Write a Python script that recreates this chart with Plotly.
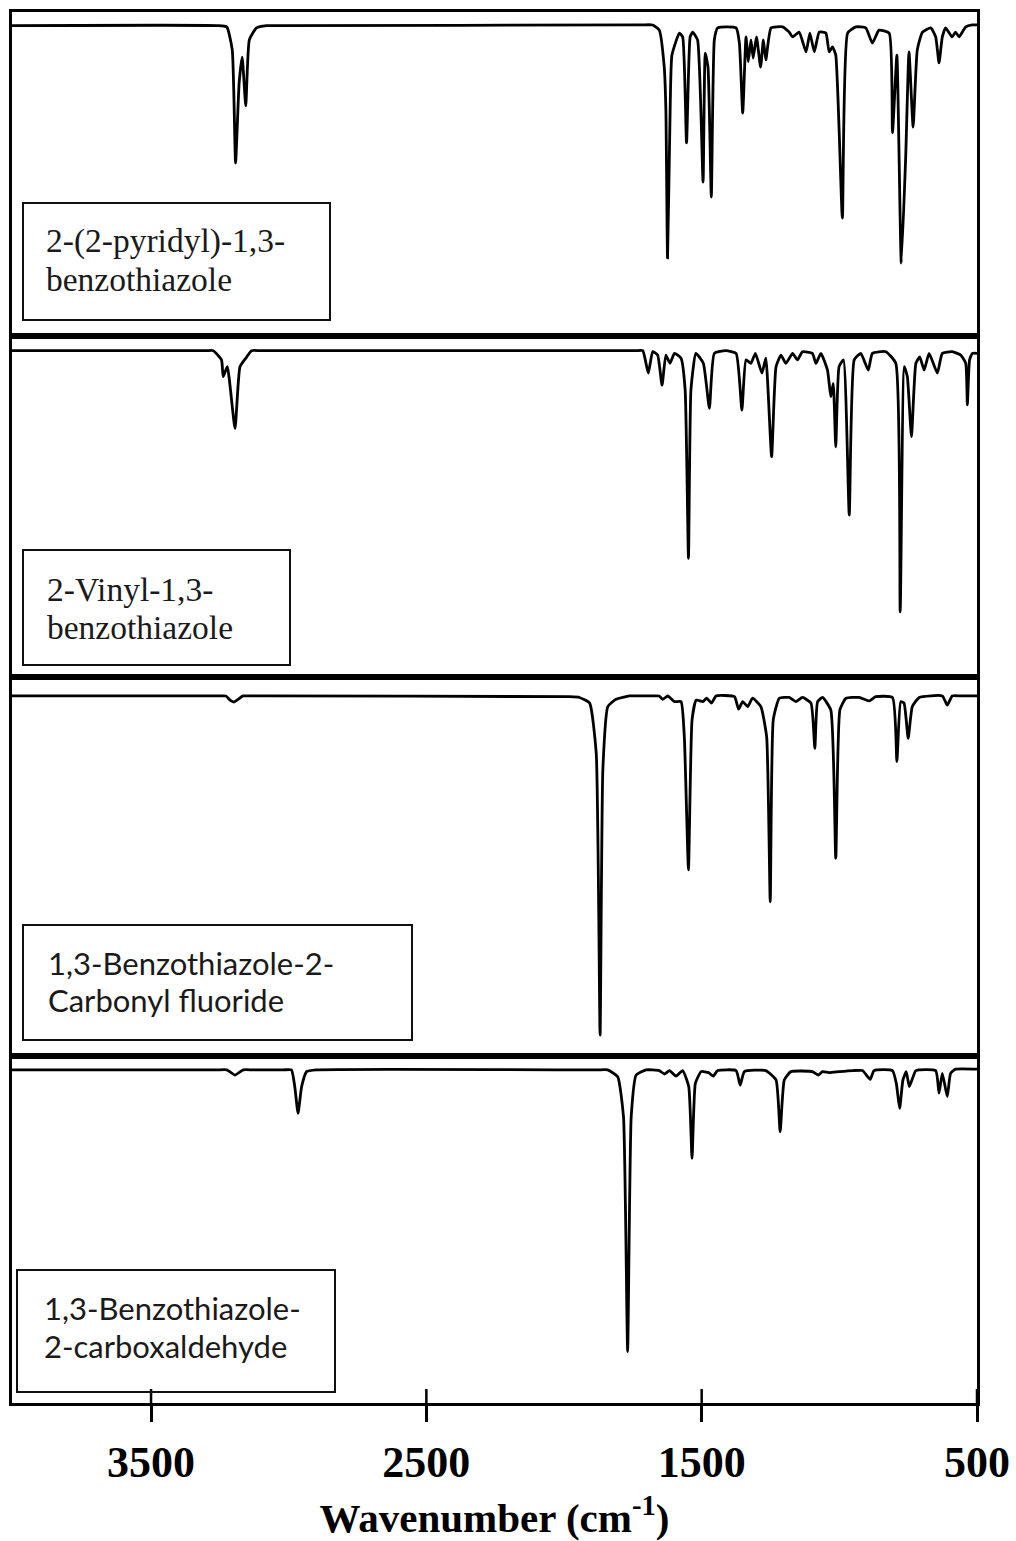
import plotly.graph_objects as go

# Stacked IR spectra (relative transmittance, %) versus wavenumber (cm-1)
wn_pyridyl = [4005, 3260, 3225, 3205, 3193, 3180, 3169, 3156, 3143, 3117, 3080, 3040, 1720, 1678, 1654, 1636,
              1630, 1624, 1615, 1608, 1581, 1569, 1555, 1542, 1533, 1515, 1495, 1487, 1477, 1465, 1454, 1442,
              1375, 1363, 1351, 1339, 1331, 1321, 1313, 1301, 1286, 1276, 1267, 1248, 1206, 1182, 1170, 1146,
              1121, 1107, 1091, 1073, 1049, 1037, 1025, 1013, 989, 970, 940, 904, 880, 856, 819, 807, 791,
              775, 759, 747, 732, 717, 698, 668, 650, 638, 626, 614, 590, 578, 565, 541, 517, 500]
t_pyridyl = [95.8, 95.8, 95.4, 88.3, 53.4, 78.1, 86.1, 71.0, 91.4, 95.1, 95.8, 95.8, 96.0, 96.0, 94.4, 83.0,
             69.8, 24.1, 67.6, 86.7, 93.5, 92.3, 59.6, 92.3, 93.8, 91.4, 47.5, 87.3, 83.0, 42.9, 91.4, 95.1,
             95.1, 90.4, 68.8, 92.3, 84.6, 91.4, 85.8, 92.3, 83.0, 91.4, 85.2, 95.1, 95.4, 93.8, 92.3, 93.8,
             87.7, 93.5, 87.7, 93.8, 93.5, 87.7, 89.2, 86.7, 36.4, 93.5, 95.4, 95.1, 90.4, 94.4, 93.5, 62.7,
             86.7, 22.5, 55.2, 87.7, 64.5, 88.3, 93.8, 95.1, 92.3, 84.3, 92.3, 95.1, 92.3, 93.8, 92.3, 95.4,
             96.0, 96.0]

wn_vinyl = [4005, 3300, 3274, 3244, 3238, 3223, 3195, 3177, 3153, 3135, 3100, 1740, 1714, 1694, 1678, 1660,
            1644, 1630, 1615, 1599, 1575, 1560, 1548, 1539, 1521, 1494, 1472, 1454, 1412, 1375, 1354, 1339,
            1321, 1305, 1281, 1267, 1246, 1230, 1212, 1194, 1170, 1152, 1134, 1098, 1085, 1067, 1043, 1031,
            1022, 1013, 1001, 985, 964, 946, 922, 895, 880, 831, 795, 779, 764, 753, 738, 722, 708, 692,
            674, 644, 626, 590, 559, 541, 535, 527, 517, 500]
t_vinyl = [95.7, 95.7, 95.7, 93.0, 88.1, 91.0, 72.9, 91.0, 93.8, 95.7, 95.7, 95.7, 95.7, 89.1, 95.4, 94.4,
           85.6, 94.4, 92.0, 94.9, 93.5, 84.2, 34.8, 84.2, 94.9, 92.0, 78.8, 94.9, 95.7, 94.9, 78.3, 93.0,
           92.0, 94.9, 89.1, 93.5, 64.6, 91.0, 94.4, 92.0, 94.9, 93.0, 95.4, 94.9, 92.0, 94.9, 90.0, 82.2,
           86.1, 67.5, 91.0, 93.0, 47.5, 93.0, 94.9, 90.0, 94.9, 95.4, 92.0, 19.1, 91.0, 88.1, 70.5, 92.0,
           93.9, 90.0, 94.9, 89.1, 94.9, 95.4, 94.4, 92.0, 79.8, 93.0, 94.9, 94.9]

wn_fluoride = [4005, 3260, 3228, 3213, 3199, 3184, 3166, 3130, 1980, 1944, 1907, 1883, 1869, 1859, 1841, 1811,
               1762, 1720, 1680, 1654, 1642, 1623, 1599, 1575, 1563, 1548, 1535, 1520, 1496, 1482, 1464, 1448,
               1381, 1366, 1351, 1333, 1315, 1285, 1264, 1251, 1240, 1218, 1182, 1158, 1134, 1103, 1089, 1079,
               1061, 1031, 1013, 998, 976, 928, 892, 868, 807, 791, 777, 765, 750, 735, 710, 626, 608, 590,
               560, 500]
t_fluoride = [95.0, 95.0, 95.0, 93.9, 93.4, 94.1, 95.0, 95.0, 94.8, 94.6, 93.1, 79.9, 5.5, 75.5, 92.2, 94.1,
              95.0, 95.0, 95.0, 95.0, 94.1, 95.0, 93.5, 93.5, 84.2, 49.1, 88.7, 93.9, 93.5, 94.4, 93.1, 95.0,
              94.8, 91.5, 93.5, 92.2, 94.4, 92.2, 84.2, 40.7, 88.7, 94.4, 94.6, 93.5, 94.6, 93.1, 81.2, 93.5,
              94.6, 91.3, 52.2, 91.3, 94.4, 94.6, 93.7, 94.8, 94.6, 77.7, 93.5, 93.1, 83.8, 92.2, 94.6, 95.0,
              92.6, 95.0, 95.0, 95.0]

wn_aldehyde = [4005, 3260, 3225, 3195, 3165, 3130, 3020, 2990, 2978, 2966, 2953, 2935, 2900, 1880, 1841, 1805,
               1784, 1769, 1756, 1738, 1702, 1654, 1635, 1617, 1593, 1569, 1547, 1535, 1523, 1502, 1475, 1458,
               1442, 1375, 1360, 1345, 1267, 1230, 1215, 1200, 1176, 1098, 1076, 1061, 1037, 1000, 950, 916,
               888, 874, 807, 793, 781, 769, 757, 746, 734, 722, 650, 638, 626, 608, 596, 578, 500]
t_aldehyde = [96.0, 96.0, 96.0, 94.5, 96.0, 96.0, 96.0, 96.0, 91.2, 83.5, 91.2, 95.5, 96.0, 96.0, 96.0, 94.0,
              82.5, 14.8, 82.5, 94.5, 96.0, 95.8, 94.8, 95.8, 94.2, 95.8, 91.2, 70.5, 92.1, 95.5, 95.2, 94.2,
              95.8, 95.8, 91.6, 95.5, 95.8, 93.1, 78.2, 93.1, 95.5, 95.5, 94.5, 95.5, 95.2, 95.5, 95.8, 95.8,
              93.3, 95.8, 95.8, 92.1, 84.9, 93.1, 95.5, 91.2, 93.6, 95.8, 95.8, 89.3, 95.0, 88.3, 95.0, 96.2,
              96.2]

compound_labels = [
    ["2-(2-pyridyl)-1,3-", "benzothiazole"],
    ["2-Vinyl-1,3-", "benzothiazole"],
    ["1,3-Benzothiazole-2-", "Carbonyl fluoride"],
    ["1,3-Benzothiazole-", "2-carboxaldehyde"],
]
tick_values = [3500, 2500, 1500, 500]
tick_labels = ["3500", "2500", "1500", "500"]

spectra = [(wn_pyridyl, t_pyridyl), (wn_vinyl, t_vinyl),
           (wn_fluoride, t_fluoride), (wn_aldehyde, t_aldehyde)]

W, H = 1016, 1541
ML, MR, MT, MB = 12, 39, 12, 138
plot_w, plot_h = W - ML - MR, H - MT - MB

# panel edges in pixels from the top of the page (shared borders)
edges = [12, 336, 677, 1056, 1403]


def py2paper(py):
    return (MT + plot_h - py) / plot_h


def px2paper(px):
    return (px - ML) / plot_w


x_range = [4005, 500]
fig = go.Figure()

for i, (wn, tr) in enumerate(spectra):
    n = i + 1
    fig.add_trace(go.Scatter(
        x=wn, y=tr, mode="lines", xaxis=f"x{n}", yaxis=f"y{n}",
        line=dict(color="black", width=2.8, shape="spline", smoothing=0.45),
        showlegend=False, hoverinfo="skip"))

frame = dict(showline=True, mirror=True, linecolor="black", linewidth=2.5,
             showgrid=False, zeroline=False, automargin=False)

layout = dict(
    width=W, height=H, margin=dict(l=ML, r=MR, t=MT, b=MB, autoexpand=False),
    paper_bgcolor="white", plot_bgcolor="white", showlegend=False,
)
for i in range(4):
    n = i + 1
    top, bot = edges[i], edges[i + 1]
    ax = dict(frame, domain=[0, 1], range=x_range, anchor=f"y{n}",
              tickvals=tick_values, ticks="", showticklabels=False)
    if n == 4:
        ax.update(ticks="outside", ticklen=16, tickwidth=2.5, tickcolor="black",
                  ticktext=tick_labels, showticklabels=True, ticklabelstandoff=2,
                  tickfont=dict(family="Liberation Serif", size=44, color="black", weight="bold"),
                  title=dict(text="Wavenumber (cm<sup>-1</sup>)", standoff=21,
                             font=dict(family="Liberation Serif", size=41, color="black",
                                       weight="bold")))
    else:
        ax["matches"] = "x4"
    layout[f"xaxis{n}" if n > 1 else "xaxis"] = ax
    layout[f"yaxis{n}" if n > 1 else "yaxis"] = dict(
        frame, domain=[py2paper(bot), py2paper(top)], range=[0, 100],
        anchor=f"x{n}", showticklabels=False, ticks="")

fig.update_layout(**layout)

# inward half of the crossing ticks on the wavenumber axis
for v in tick_values:
    fig.add_shape(type="line", xref="x4", yref="paper", x0=v, x1=v, y0=0, y1=14 / plot_h,
                  line=dict(color="black", width=2.5))

# compound label boxes: (left, top, right, bottom) px, text left px, line centres px, font
boxes = [
    ((23, 203, 330, 320), 44, (241, 279), "Liberation Serif", 33.5),
    ((23, 550, 290, 665), 45, (589, 627), "Liberation Serif", 33.5),
    ((23, 925, 412, 1040), 46, (963, 1000), "Lato", 31),
    ((17, 1270, 335, 1392), 42, (1308, 1346), "Lato", 31),
]
for (x0, y0, x1, y1), tx, lines_y, fam, size in boxes:
    fig.add_shape(type="rect", xref="paper", yref="paper",
                  x0=px2paper(x0), x1=px2paper(x1), y0=py2paper(y1), y1=py2paper(y0),
                  line=dict(color="#111111", width=2), fillcolor="rgba(0,0,0,0)")
for (box, tx, lines_y, fam, size), texts in zip(boxes, compound_labels):
    for ly, txt in zip(lines_y, texts):
        fig.add_annotation(text=txt, xref="paper", yref="paper", x=px2paper(tx), y=py2paper(ly),
                           xanchor="left", yanchor="middle", showarrow=False,
                           font=dict(family=fam, size=size, color="#1a1a1a"))

fig.write_html("out.html")
